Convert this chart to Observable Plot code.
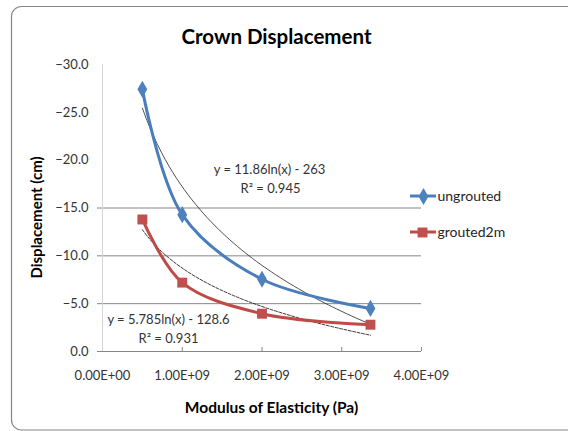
<!DOCTYPE html>
<html>
<head>
<meta charset="utf-8">
<script src="https://cdn.jsdelivr.net/npm/d3@7"></script>
<script src="https://cdn.jsdelivr.net/npm/@observablehq/plot@0.6"></script>
<style>
  html, body { margin: 0; padding: 0; background: white; }
</style>
</head>
<body>
<div id="chart"></div>
<script>
// ---- data ----
const modulus = [0.5e9, 1.0e9, 2.0e9, 3.36e9];          // Pa
const ungrouted = [-27.4, -14.3, -7.55, -4.5];           // cm
const grouted2m = [-13.8, -7.2, -3.95, -2.8];            // cm
const seriesNames = ["ungrouted", "grouted2m"];
const seriesColors = ["#4A7EBB", "#BE4B48"];
const markerColors = ["#4F81BD", "#C0504D"];
const trendSlope = [11.86, 5.785];                       // y = a ln(x) + b
const trendIntercept = [-263, -128.6];
const trendLabels = ["y = 11.86ln(x) - 263", "y = 5.785ln(x) - 128.6"];
const r2Labels = ["R² = 0.945", "R² = 0.931"];
const yTicks = [0, -5, -10, -15, -20, -25, -30];
const yTickMarks = [0, -5, -10, -15];
const gridValues = [-5, -10, -15];
const xTicks = [0, 1e9, 2e9, 3e9, 4e9];

const pts = [];
modulus.forEach((m, i) => {
  pts.push({x: m, y: ungrouted[i], s: seriesNames[0]});
});
modulus.forEach((m, i) => {
  pts.push({x: m, y: grouted2m[i], s: seriesNames[1]});
});

// trend lines evaluated from the equations shown in the chart
const xmin = d3.min(modulus), xmax = d3.max(modulus);
const samples = d3.range(0, 61).map(k => xmin + (xmax - xmin) * k / 60);
const trend = [];
seriesNames.forEach((s, i) => {
  samples.forEach(x => trend.push({x, y: trendSlope[i] * Math.log(x) + trendIntercept[i], s}));
});

function sci(v) {
  if (v === 0) return "0.00E+00";
  const e = Math.floor(Math.log10(Math.abs(v)));
  const m = v / Math.pow(10, e);
  return m.toFixed(2) + "E" + (e >= 0 ? "+" : "-") + String(Math.abs(e)).padStart(2, "0");
}

const F = {frameAnchor: "top-left"};
const chart = Plot.plot({
  width: 568,
  height: 431,
  marginLeft: 102,
  marginRight: 147,
  marginTop: 64,
  marginBottom: 80,
  style: {fontFamily: "Lato, 'Open Sans', sans-serif", fontSize: "13px", background: "white", color: "#262626"},
  x: {domain: [0, 4e9]},
  y: {domain: [0, -30]},
  color: {domain: seriesNames, range: seriesColors},
  marks: [
    Plot.ruleY(gridValues, {stroke: "#868686", strokeWidth: 1}),
    Plot.ruleX([0], {stroke: "#d4d4d4", strokeWidth: 1}),
    Plot.ruleY([0], {stroke: "#868686", strokeWidth: 1}),
    Plot.ruleX(xTicks.slice(1), {x: d => d, y1: 0, y2: -0.42, stroke: "#868686"}),
    Plot.axisY({ticks: yTicks, tickSize: 0, tickPadding: 14, tickFormat: d3.format(".1f"), label: null, fill: "#333"}),
    Plot.axisY({ticks: yTickMarks, tickSize: 5, tickFormat: () => "", label: null, stroke: "#868686"}),
    Plot.axisX({ticks: xTicks, tickSize: 0, tickPadding: 19, tickFormat: sci, label: null, fill: "#333"}),
    // trendlines
    Plot.line(trend.filter(d => d.s === seriesNames[0]), {x: "x", y: "y", stroke: "#222", strokeWidth: 0.8}),
    Plot.line(trend.filter(d => d.s === seriesNames[1]), {x: "x", y: "y", stroke: "#222", strokeWidth: 0.9, strokeDasharray: "3,1.5"}),
    // series lines
    Plot.line(pts, {x: "x", y: "y", z: "s", stroke: "s", strokeWidth: 3, curve: "catmull-rom"}),
    Plot.dot(pts.filter(d => d.s === seriesNames[0]), {x: "x", y: "y", symbol: "diamond", r: 5.2, fill: markerColors[0]}),
    Plot.dot(pts.filter(d => d.s === seriesNames[1]), {x: "x", y: "y", symbol: "square", r: 5.6, fill: markerColors[1]}),
    // texts
    Plot.text(["Crown Displacement"], {...F, text: d => d, dx: 174, dy: -27, textAnchor: "middle", lineAnchor: "middle", fontSize: 20.5, fontWeight: "bold", fill: "#000"}),
    Plot.text(["Displacement (cm)"], {...F, text: d => d, dx: -65, dy: 153, rotate: -90, textAnchor: "middle", lineAnchor: "middle", fontSize: 15, fontWeight: "bold", fill: "#000"}),
    Plot.text(["Modulus of Elasticity (Pa)"], {...F, text: d => d, dx: 169, dy: 344, textAnchor: "middle", lineAnchor: "middle", fontSize: 15.5, fontWeight: "bold", fill: "#000"}),
    Plot.text([trendLabels[0]], {...F, text: d => d, dx: 167, dy: 105, textAnchor: "middle", lineAnchor: "middle", fontSize: 13, fill: "#333"}),
    Plot.text([r2Labels[0]], {...F, text: d => d, dx: 168, dy: 124, textAnchor: "middle", lineAnchor: "middle", fontSize: 13, fill: "#333"}),
    Plot.text([trendLabels[1]], {...F, text: d => d, dx: 66, dy: 255, textAnchor: "middle", lineAnchor: "middle", fontSize: 13, fill: "#333"}),
    Plot.text([r2Labels[1]], {...F, text: d => d, dx: 66, dy: 274, textAnchor: "middle", lineAnchor: "middle", fontSize: 13, fill: "#333"}),
    // legend labels and markers
    Plot.text([seriesNames[0]], {...F, text: d => d, dx: 335, dy: 132, textAnchor: "start", lineAnchor: "middle", fontSize: 14, fill: "#262626"}),
    Plot.text([seriesNames[1]], {...F, text: d => d, dx: 335, dy: 168, textAnchor: "start", lineAnchor: "middle", fontSize: 14, fill: "#262626"}),
    Plot.dot([0], {...F, dx: 321, dy: 132, symbol: "diamond", r: 5.2, fill: markerColors[0]}),
    Plot.dot([0], {...F, dx: 320, dy: 168, symbol: "square", r: 5.6, fill: markerColors[1]})
  ]
});

const svg = d3.select(chart);
// chart area border
svg.insert("rect", ":first-child")
  .attr("x", 11.5).attr("y", 6.5).attr("width", 600).attr("height", 423.5)
  .attr("rx", 10).attr("fill", "white").attr("stroke", "#868686").attr("stroke-width", 1.2);
// legend lines
const legendY = [196, 232];
legendY.forEach((y, i) => {
  svg.insert("line", "g[aria-label='dot']")
    .attr("x1", 410).attr("x2", 436).attr("y1", y).attr("y2", y)
    .attr("stroke", seriesColors[i]).attr("stroke-width", 3);
});
document.getElementById("chart").appendChild(chart);
</script>
</body>
</html>
